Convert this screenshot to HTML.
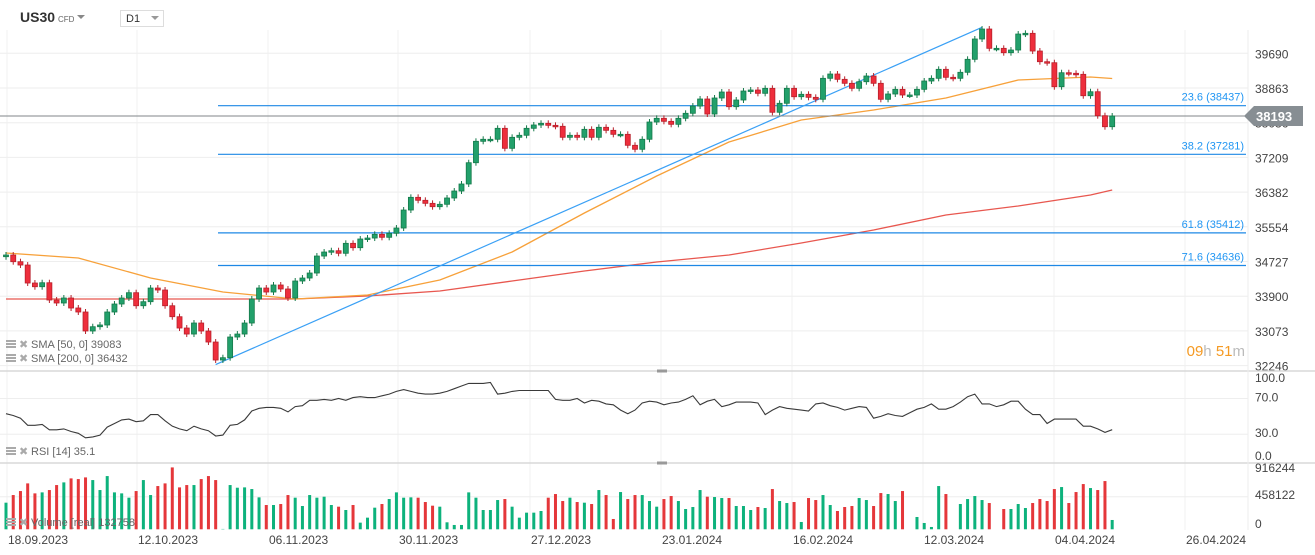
<!DOCTYPE html>
<html><head><meta charset="utf-8">
<style>
body{margin:0;background:#fff;width:1315px;height:555px;overflow:hidden;font-family:"Liberation Sans",sans-serif;}
svg{position:absolute;left:0;top:0;}
</style></head>
<body>
<svg id="chart" width="1315" height="555"></svg>
<script>
// ---------- DATA ----------
const closes=[34886,34727,34648,34220,34132,34227,33816,33745,33864,33626,33531,33079,33181,33222,33531,33721,33864,33990,33680,33776,34101,34054,33680,33419,33150,33007,33269,33079,32817,32389,32444,32936,33007,33269,33840,34101,34006,34173,34078,33864,34268,34339,34458,34862,34957,34988,34927,35164,35060,35267,35290,35378,35307,35402,35528,35956,36258,36187,36115,36035,36092,36242,36408,36575,37081,37590,37638,37638,37899,37423,37685,37733,37899,37978,38018,37970,37947,37685,37733,37685,37875,37685,37923,37851,37756,37756,37495,37400,37638,38049,38137,38065,37994,38137,38256,38429,38596,38239,38620,38762,38413,38572,38786,38810,38731,38850,38280,38494,38850,38650,38708,38636,38589,39088,39190,39064,38969,38850,39007,39143,38969,38589,38715,38826,38691,38691,38826,39024,39088,39302,39112,39088,39231,39540,40023,40260,39801,39801,39697,39761,40141,40158,39737,39483,39459,38888,39221,39207,39183,38674,38769,38199,37937,38192];
const firstOpen=34846;
const sma50Idx=[0,10,20,30,40,50,60,70,80,90,100,110,120,130,140,150,153];
const sma50Val=[34934,34815,34339,34006,33840,33935,34292,34957,35885,36765,37573,38096,38334,38620,39048,39119,39083];
const sma200Idx=[0,10,20,30,40,50,60,70,80,90,100,110,120,130,140,150,153];
const sma200Val=[33840,33840,33840,33840,33840,33911,34030,34268,34506,34720,34886,35171,35481,35838,36051,36313,36432];
const fibLevels=["23.6","38.2","61.8","71.6"];
const fibPrices=[38437,37281,35412,34636];
const trendFromIdx=29, trendFromPrice=32280, trendToIdx=135, trendToPrice=40300;
const rsiVals=[53,51,48,40,40,41,35,35,36,33,31,26,27,29,38,42,46,47,44,45,52,52,45,39,36,34,39,36,34,28,29,40,41,46,56,59,60,60,59,55,61,62,68,68,69,68,70,68,71,72,71,71,73,75,78,80,78,76,75,75,76,78,81,84,87,87,87,88,75,76,78,79,79,79,79,79,69,68,68,70,65,68,67,64,63,57,53,57,65,67,66,63,65,66,69,73,63,67,69,61,63,66,66,66,65,52,57,61,59,58,57,56,64,65,62,60,57,59,61,60,48,50,53,51,50,54,58,60,64,58,58,61,66,72,75,64,64,61,63,67,67,58,52,52,42,47,47,47,47,39,39,36,32,35.1];
const volumes=[374000,481500,537600,645200,504900,518900,551700,621800,659200,715300,705900,729300,691900,551700,748000,518900,504900,444100,537600,691900,481500,607800,645200,869600,589100,621800,621800,705900,748000,691900,5000,621800,584400,589100,565700,448800,341300,341300,355300,481500,444100,327300,481500,444100,458200,341300,317900,271200,341300,93500,163600,303900,355300,425400,518900,444100,448800,444100,383400,331900,317900,98200,60800,60800,518900,444100,271200,271200,411400,425400,317900,163600,233800,233800,257100,444100,495600,397400,444100,383400,374000,355300,551700,481500,144900,523600,425400,481500,481500,397400,317900,425400,467500,397400,285200,313200,551700,458200,453500,439500,439500,327300,327300,271200,313200,299200,565700,397400,369300,383400,102900,439500,411400,481500,341300,257100,313200,327300,439500,411400,327300,509600,495600,397400,537600,0,173000,88800,32700,607800,495600,0,355300,425400,467500,411400,369300,0,285200,285200,355300,299200,369300,425400,397400,565700,593700,369300,523600,635800,579700,551700,677900,130900];
const priceTicks=["39690","38863","38036","37209","36382","35554","34727","33900","33073","32246"];
const dateLabels=["18.09.2023","12.10.2023","06.11.2023","30.11.2023","27.12.2023","23.01.2024","16.02.2024","12.03.2024","04.04.2024","26.04.2024"];
const rsiTicks=[100,70,30,0];
const volTicks=[916244,458122,0];
const lastPrice=38193;

// ---------- SCALES ----------
const X=i=>6+i*7.23;
const Y=p=>53+(39690-p)/23.78;
const RY=v=>461-v*0.8925;
const VY=v=>529.3-v*32.6/458122;
const NS='http://www.w3.org/2000/svg';
const svg=document.getElementById('chart');
function mk(tag,attrs,parent){const e=document.createElementNS(NS,tag);for(const k in attrs)e.setAttribute(k,attrs[k]);(parent||svg).appendChild(e);return e;}

const grid=mk('g',{});


priceTicks.forEach((t,k)=>{const y=53.3+k*34.7;mk('line',{x1:0,x2:1248,y1:y,y2:y,stroke:'#eeeeee'},grid);
 const tx=mk('text',{x:1255,y:y+5,'font-size':12,fill:'#444'});tx.textContent=t;
 
 });
const vgx=[7,137,268,398,530,661,792,923,1054,1185];
vgx.forEach((x,k)=>{mk('line',{x1:x,x2:x,y1:30,y2:530,stroke:'#f0f0f0'},grid);
 const tx=mk('text',{x:x+1,y:544,'font-size':12,fill:'#444'});tx.textContent=dateLabels[k];
 
 });
[70,30].forEach(v=>mk('line',{x1:0,x2:1248,y1:RY(v),y2:RY(v),stroke:'#eeeeee'},grid));
mk('line',{x1:0,x2:1248,y1:VY(458122),y2:VY(458122),stroke:'#eeeeee'},grid);
[371,463].forEach(y=>{mk('line',{x1:0,x2:1315,y1:y,y2:y,stroke:'#d8d8d8','stroke-width':1.5});
 mk('rect',{x:657,y:y-1.5,width:10,height:3,fill:'#999'});});
mk('line',{x1:1248,x2:1248,y1:30,y2:530,stroke:'#eeeeee'});

function smaPath(idx,val,color,name){let d='';idx.forEach((i,k)=>{d+=(k?'L':'M')+X(i).toFixed(1)+' '+Y(val[k]).toFixed(1);});
 const p=mk('path',{d:d,fill:'none',stroke:color,'stroke-width':1.3,'stroke-linejoin':'round'});
 
 }
smaPath(sma200Idx,sma200Val,'#e8574f','sma-200-line');
smaPath(sma50Idx,sma50Val,'#f7a13a','sma-50-line');

fibPrices.forEach((p,k)=>{const y=Y(p);
 const l=mk('line',{x1:218,x2:1246,y1:y,y2:y,stroke:'#1e88e5','stroke-width':1.2});
 
 
 const t=mk('text',{x:1244,y:y-5,'font-size':11,fill:'#2196f3','text-anchor':'end'});
 t.textContent=fibLevels[k]+' ('+p+')';
 
 });
const tl=mk('line',{x1:X(trendFromIdx),y1:Y(trendFromPrice),x2:X(trendToIdx),y2:Y(trendToPrice),stroke:'#3aa0f5','stroke-width':1.2});


const lp=mk('line',{x1:0,x2:1246,y1:Y(lastPrice),y2:Y(lastPrice),stroke:'#80868a','stroke-width':1});



const cg=mk('g',{});


closes.forEach((c,i)=>{const o=i?closes[i-1]:firstOpen;const up=c>=o;
 const x=X(i);const yt=Y(Math.max(o,c)),yb=Y(Math.min(o,c));
 const col=up?'#22a06b':'#ee2e3c',bd=up?'#157a4a':'#b8202b';
 mk('line',{x1:x,x2:x,y1:yt-3,y2:yb+3,stroke:bd,'stroke-width':1},cg);
 const r=mk('rect',{x:x-2.5,y:yt,width:5,height:Math.max(1.5,yb-yt),fill:col,stroke:bd,'stroke-width':0.8},cg);
 
 });

let rd='';rsiVals.forEach((v,i)=>{rd+=(i?'L':'M')+X(i).toFixed(1)+' '+RY(v).toFixed(1);});
const rp=mk('path',{d:rd,fill:'none',stroke:'#3a3a3a','stroke-width':1.1});


rsiTicks.forEach(v=>{const t=mk('text',{x:1255,y:RY(v)+ (v==100?10:v==0?-1:3),'font-size':12,fill:'#444'});t.textContent=v.toFixed(1);
 
 });

volumes.forEach((v,i)=>{if(i>=closes.length)return;const o=i?closes[i-1]:firstOpen;const up=closes[i]>=o;
 const b=mk('rect',{x:X(i)-1.5,y:VY(v),width:3,height:529.3-VY(v),fill:up?'#0db27c':'#e5373a'});
 
 });
volTicks.forEach((v,k)=>{const t=mk('text',{x:1255,y:[472,499,528][k],'font-size':12,fill:'#444'});t.textContent=v;
 
 });

const tg=mk('g',{});


const ly=Y(lastPrice);
mk('path',{d:`M1244 ${ly} L1254 ${ly-10} L1303 ${ly-10} L1303 ${ly+10} L1254 ${ly+10} Z`,fill:'#878e93'},tg);
const lt=mk('text',{x:1256,y:ly+5,'font-size':13,fill:'#fff','font-weight':'bold'},tg);lt.textContent=lastPrice;

function legend(y,txt,name){const g=mk('g',{});
 
 
 mk('rect',{x:6,y:y-8,width:10,height:2,fill:'#aaa'},g);mk('rect',{x:6,y:y-5,width:10,height:2,fill:'#aaa'},g);mk('rect',{x:6,y:y-2,width:10,height:2,fill:'#aaa'},g);
 const x=mk('text',{x:19,y:y,'font-size':11,fill:'#aaa'},g);x.textContent='✖';
 const t=mk('text',{x:31,y:y,'font-size':11,fill:'#666'},g);t.textContent=txt;}
legend(348,'SMA  [50,  0]  39083','sma-50-legend');
legend(362,'SMA  [200,  0]  36432','sma-200-legend');
legend(455,'RSI  [14]  35.1','rsi-legend');
legend(526,'Volume  [real]  132758','volume-legend');

const tm=mk('text',{x:1245,y:356,'font-size':15,'text-anchor':'end'});


tm.innerHTML='<tspan fill="#f59a23">09</tspan><tspan fill="#bbb">h </tspan><tspan fill="#f59a23">51</tspan><tspan fill="#bbb">m</tspan>';

const h=mk('text',{x:20,y:22,'font-size':14,'font-weight':'bold',fill:'#333'});h.textContent='US30';


const cf=mk('text',{x:58,y:22,'font-size':8,fill:'#666'});cf.textContent='CFD';


const dd=mk('path',{d:'M77 15 L85 15 L81 19 Z',fill:'#888'});


const tf=mk('g',{});


mk('rect',{x:120.5,y:10.5,width:43,height:16,fill:'#fff',stroke:'#ddd'},tf);
const tft=mk('text',{x:126,y:22,'font-size':11,fill:'#333'},tf);tft.textContent='D1';
mk('path',{d:'M151 16 L159 16 L155 20 Z',fill:'#999'},tf);
</script>
</body></html>
